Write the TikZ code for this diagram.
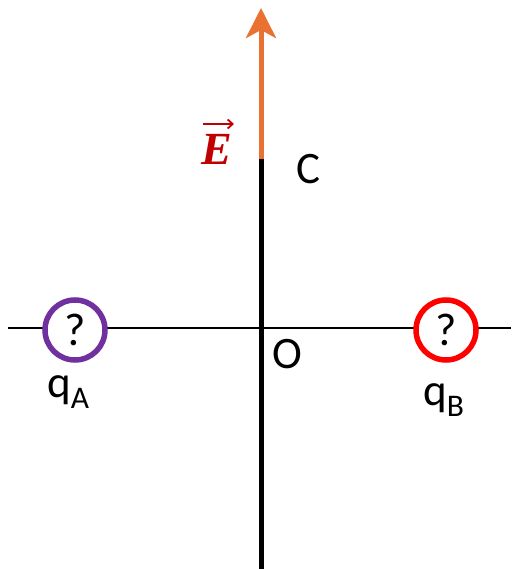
\documentclass[tikz,border=0pt]{standalone}
\usepackage{fontspec}
\setmainfont{Carlito}
\newfontfamily\efont{Liberation Serif}
\usetikzlibrary{arrows.meta}
\definecolor{eorange}{HTML}{E97132}
\definecolor{qpurple}{HTML}{7030A0}
\definecolor{qred}{HTML}{FF0000}
\definecolor{ered}{HTML}{C00000}
\tikzset{
  lbl/.style={inner sep=0pt, font=\fontsize{45}{50}\selectfont, anchor=base west},
  charge/.style={circle, draw, line width=5.5pt, fill=white, minimum size=60pt, inner sep=0pt, font=\fontsize{46}{50}\selectfont},
}
\begin{document}
\begin{tikzpicture}[x=1pt,y=-1pt]
\useasboundingbox (0,0) rectangle (511,569);
\coordinate (hl) at (8,328);
\coordinate (hr) at (511,328);
\coordinate (top) at (261,8);
\coordinate (mid) at (261,158);
\coordinate (bot) at (261,569);
\draw[line width=1.8pt] (hl) -- (hr);
\draw[line width=5pt] (mid) -- (bot);
\draw[eorange, line width=5pt, -{Stealth[length=30pt, width=30pt, inset=8pt]}] ([yshift=-1pt]mid) -- (top);
\node[charge, draw=qpurple] (qa) at (75,330) {?};
\node[charge, draw=qred] (qb) at (446,330) {?};
\node[lbl] (la) at (47,397) {q\textsubscript{A}};
\node[lbl] (lb) at (423,405) {q\textsubscript{B}};
\node[lbl] (lo) at (272,368) {O};
\node[lbl] (lc) at (296,184) {C};
\node[inner sep=0pt, anchor=base, text=ered, font={\fontsize{46}{50}\selectfont\efont\bfseries\itshape}] (le) at (217,165) {E};
\coordinate (ea) at (203,124);
\coordinate (eb) at (234,124);
\draw[ered, line width=1.8pt, -{Straight Barb[length=5pt, width=9pt]}] (ea) -- (eb);
\end{tikzpicture}
\end{document}
